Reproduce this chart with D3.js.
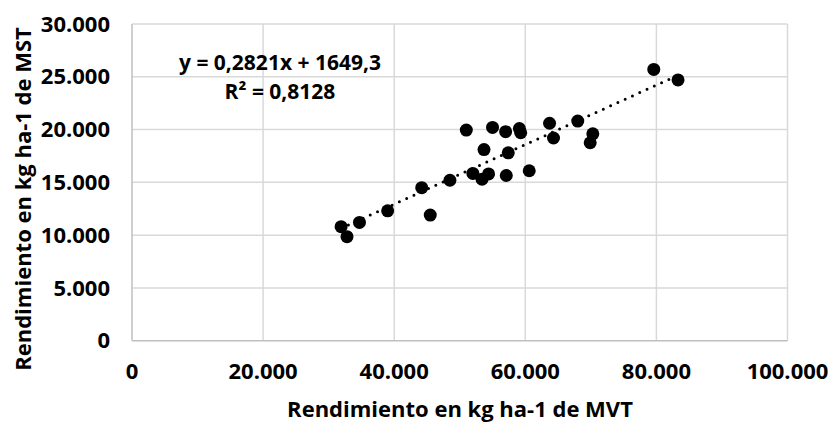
<!DOCTYPE html>
<html>
<head>
<meta charset="utf-8">
<script src="https://cdn.jsdelivr.net/npm/d3@7"></script>
<style>
  body { margin: 0; background: #fff; }
  text { font-family: "Open Sans", sans-serif; font-weight: bold; fill: #000; }
</style>
</head>
<body>
<svg></svg>
<script>
// Data
const mvt = [31900, 32800, 34700, 39000, 44200, 45500, 48500, 51000, 52000, 53400, 54400, 53700, 55000,
             57000, 57400, 57100, 59100, 59300, 60600, 63700, 64300, 68000, 70300, 69900, 79600, 83300];
const mst = [10800, 9850, 11200, 12300, 14500, 11900, 15200, 19950, 15850, 15300, 15800, 18100, 20200,
             19800, 17800, 15650, 20100, 19700, 16100, 20600, 19200, 20800, 19600, 18750, 25700, 24700];
const xTicks = [0, 20000, 40000, 60000, 80000, 100000];
const yTicks = [0, 5000, 10000, 15000, 20000, 25000, 30000];
const slope = 0.2821, intercept = 1649.3;
const eqText = "y = 0,2821x + 1649,3";
const r2Text = "R² = 0,8128";
const xTitle = "Rendimiento en kg ha-1 de MVT";
const yTitle = "Rendimiento en kg ha-1 de MST";

const margin = { top: 24, right: 42.5, bottom: 82.3, left: 132 },
  W = 830, H = 423,
  width = W - margin.left - margin.right,
  height = H - margin.top - margin.bottom;

const locale = d3.formatLocale({ decimal: ",", thousands: ".", grouping: [3], currency: ["", ""] });
const fmt = locale.format(",d");

const svg = d3.select("svg").attr("width", W).attr("height", H);
const g = svg.append("g").attr("transform", `translate(${margin.left},${margin.top})`);

const x = d3.scaleLinear().domain([0, 100000]).range([0, width]);
const y = d3.scaleLinear().domain([0, 30000]).range([height, 0]);

// Gridlines
g.append("g")
  .selectAll("line")
  .data(yTicks.filter((d) => d > 0))
  .join("line")
  .attr("x1", 0).attr("x2", width)
  .attr("y1", (d) => y(d)).attr("y2", (d) => y(d))
  .attr("stroke", "#d9d9d9").attr("stroke-width", 1.5);
g.append("g")
  .selectAll("line")
  .data(xTicks.filter((d) => d > 0))
  .join("line")
  .attr("x1", (d) => x(d)).attr("x2", (d) => x(d))
  .attr("y1", 0).attr("y2", height)
  .attr("stroke", "#d9d9d9").attr("stroke-width", 1.5);

// Axis lines
g.append("line").attr("x1", 0).attr("x2", 0).attr("y1", 0).attr("y2", height)
  .attr("stroke", "#bfbfbf").attr("stroke-width", 1.5);
g.append("line").attr("x1", 0).attr("x2", width).attr("y1", height).attr("y2", height)
  .attr("stroke", "#bfbfbf").attr("stroke-width", 1.5);

// Tick labels
g.append("g")
  .selectAll("text")
  .data(yTicks)
  .join("text")
  .attr("x", -22)
  .attr("y", (d) => y(d))
  .attr("dy", "0.35em")
  .attr("text-anchor", "end")
  .style("font-size", "22px")
  .text((d) => fmt(d));
g.append("g")
  .selectAll("text")
  .data(xTicks)
  .join("text")
  .attr("x", (d) => x(d))
  .attr("y", height + 31)
  .attr("dy", "0.35em")
  .attr("text-anchor", "middle")
  .style("font-size", "22px")
  .text((d) => fmt(d));

// Axis titles
svg.append("text")
  .attr("x", 460).attr("y", 409).attr("dy", "0.35em")
  .attr("text-anchor", "middle")
  .style("font-size", "22px")
  .text(xTitle);
svg.append("text")
  .attr("transform", "translate(23,199) rotate(-90)")
  .attr("dy", "0.35em")
  .attr("text-anchor", "middle")
  .style("font-size", "22px")
  .text(yTitle);

// Trendline
const xMin = d3.min(mvt), xMax = d3.max(mvt);
g.append("line")
  .attr("x1", x(xMin)).attr("y1", y(slope * xMin + intercept))
  .attr("x2", x(xMax)).attr("y2", y(slope * xMax + intercept))
  .attr("stroke", "#000").attr("stroke-width", 3)
  .attr("stroke-linecap", "round")
  .attr("stroke-dasharray", "0 8");

// Points
g.append("g")
  .selectAll("circle")
  .data(mvt.map((d, i) => [d, mst[i]]))
  .join("circle")
  .attr("cx", (d) => x(d[0]))
  .attr("cy", (d) => y(d[1]))
  .attr("r", 6.5)
  .attr("fill", "#000");

// Equation label
svg.append("text")
  .attr("x", 280).attr("y", 63).attr("dy", "0.35em")
  .attr("text-anchor", "middle")
  .style("font-size", "21px")
  .text(eqText);
svg.append("text")
  .attr("x", 280).attr("y", 92).attr("dy", "0.35em")
  .attr("text-anchor", "middle")
  .style("font-size", "21px")
  .text(r2Text);
</script>
</body>
</html>
